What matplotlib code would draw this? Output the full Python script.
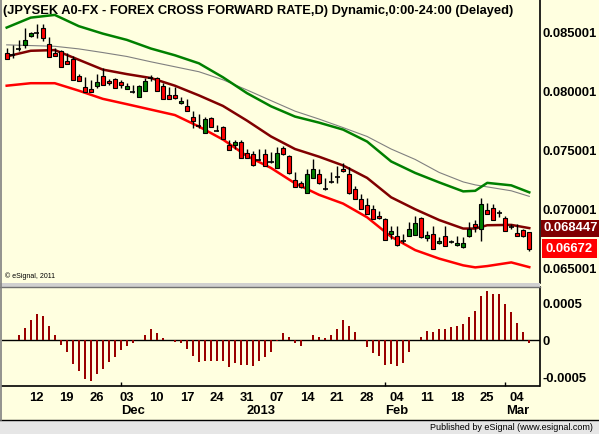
import matplotlib
matplotlib.use('Agg')
import matplotlib.pyplot as plt
import matplotlib.transforms as mtransforms
from matplotlib.patches import Rectangle
from matplotlib.lines import Line2D

plt.rcParams['font.family'] = ['Liberation Sans', 'DejaVu Sans']

# daily candles, 5 Nov 2012 .. 6 Mar 2013 (88 bars)
opens = [0.08323, 0.08309, 0.08357, 0.08393, 0.08471, 0.08494, 0.08539, 0.08399, 0.08323, 0.08337,
         0.08253, 0.08273, 0.08132, 0.08040, 0.08020, 0.08042, 0.08132, 0.08090, 0.08104, 0.08079,
         0.08023, 0.07997, 0.07953, 0.08003, 0.08111, 0.08113, 0.08044, 0.07972, 0.07968, 0.07902,
         0.07874, 0.07787, 0.07705, 0.07650, 0.07776, 0.07669, 0.07700, 0.07543, 0.07551, 0.07574,
         0.07481, 0.07475, 0.07422, 0.07473, 0.07402, 0.07355, 0.07523, 0.07453, 0.07248, 0.07229,
         0.07144, 0.07271, 0.07299, 0.07172, 0.07237, 0.07279, 0.07341, 0.07299, 0.07172, 0.07094,
         0.07043, 0.07010, 0.06947, 0.06920, 0.06793, 0.06782, 0.06734, 0.06779, 0.06787, 0.06934,
         0.06760, 0.06793, 0.06718, 0.06774, 0.06729, 0.06698, 0.06681, 0.06774, 0.06878, 0.06835,
         0.06995, 0.07012, 0.06973, 0.06928, 0.06855, 0.06802, 0.06827, 0.06808]
highs = [0.08368, 0.08393, 0.08435, 0.08534, 0.08505, 0.08566, 0.08567, 0.08463, 0.08365, 0.08351,
         0.08323, 0.08295, 0.08149, 0.08118, 0.08098, 0.08149, 0.08197, 0.08107, 0.08111, 0.08098,
         0.08071, 0.08052, 0.08056, 0.08115, 0.08141, 0.08119, 0.08069, 0.08033, 0.08040, 0.07951,
         0.07936, 0.07832, 0.07810, 0.07784, 0.07781, 0.07714, 0.07711, 0.07593, 0.07593, 0.07593,
         0.07509, 0.07495, 0.07515, 0.07509, 0.07484, 0.07528, 0.07537, 0.07459, 0.07321, 0.07242,
         0.07341, 0.07431, 0.07341, 0.07271, 0.07318, 0.07368, 0.07397, 0.07360, 0.07200, 0.07130,
         0.07102, 0.07038, 0.06990, 0.06934, 0.06863, 0.06863, 0.06793, 0.06897, 0.06947, 0.06942,
         0.06821, 0.06863, 0.06766, 0.06863, 0.06743, 0.06779, 0.06766, 0.06900, 0.06914, 0.07102,
         0.07060, 0.07052, 0.06995, 0.06947, 0.06883, 0.06878, 0.06835, 0.06816]
lows = [0.08271, 0.08281, 0.08337, 0.08365, 0.08463, 0.08452, 0.08427, 0.08288, 0.08295, 0.08208,
        0.08229, 0.08096, 0.08088, 0.07993, 0.07993, 0.08029, 0.08054, 0.08056, 0.08027, 0.08029,
        0.08021, 0.07985, 0.07951, 0.08001, 0.08084, 0.08002, 0.07934, 0.07934, 0.07932, 0.07890,
        0.07832, 0.07688, 0.07692, 0.07648, 0.07695, 0.07663, 0.07597, 0.07501, 0.07509, 0.07437,
        0.07437, 0.07372, 0.07416, 0.07370, 0.07395, 0.07353, 0.07465, 0.07305, 0.07193, 0.07187,
        0.07142, 0.07269, 0.07221, 0.07166, 0.07223, 0.07229, 0.07318, 0.07137, 0.07092, 0.07008,
        0.06966, 0.06918, 0.06924, 0.06741, 0.06751, 0.06696, 0.06723, 0.06777, 0.06785, 0.06764,
        0.06737, 0.06665, 0.06709, 0.06693, 0.06715, 0.06695, 0.06679, 0.06772, 0.06808, 0.06737,
        0.06966, 0.06912, 0.06939, 0.06819, 0.06841, 0.06777, 0.06772, 0.06653]
closes = [0.08275, 0.08309, 0.08357, 0.08435, 0.08492, 0.08494, 0.08450, 0.08290, 0.08303, 0.08210,
          0.08231, 0.08098, 0.08090, 0.07995, 0.07995, 0.08079, 0.08056, 0.08071, 0.08029, 0.08056,
          0.08042, 0.07997, 0.08048, 0.08090, 0.08111, 0.08006, 0.07936, 0.07936, 0.07943, 0.07922,
          0.07835, 0.07747, 0.07705, 0.07768, 0.07697, 0.07669, 0.07599, 0.07503, 0.07571, 0.07439,
          0.07439, 0.07374, 0.07422, 0.07372, 0.07402, 0.07481, 0.07467, 0.07307, 0.07195, 0.07195,
          0.07304, 0.07341, 0.07223, 0.07172, 0.07237, 0.07279, 0.07326, 0.07139, 0.07094, 0.07010,
          0.06968, 0.06920, 0.06926, 0.06743, 0.06821, 0.06698, 0.06734, 0.06835, 0.06892, 0.06766,
          0.06787, 0.06667, 0.06737, 0.06695, 0.06729, 0.06718, 0.06715, 0.06835, 0.06855, 0.07046,
          0.06968, 0.06914, 0.06973, 0.06821, 0.06855, 0.06779, 0.06774, 0.06672]

# envelope lines, read at these bar numbers
band_idx = [0, 4, 8, 12, 16, 20, 24, 28, 32, 36, 40, 44, 48, 52, 56, 60, 64, 68, 72, 76, 78, 80, 84, 87]
upper = [0.08539, 0.08623, 0.08646, 0.08551, 0.08488, 0.08435, 0.08362, 0.08305, 0.08237, 0.08119,
         0.07985, 0.07874, 0.07787, 0.07736, 0.07677, 0.07576, 0.07408, 0.07311, 0.07231, 0.07155,
         0.07160, 0.07227, 0.07206, 0.07147]
grey_ma = [0.08393, 0.08387, 0.08381, 0.08359, 0.08328, 0.08295, 0.08250, 0.08208, 0.08166, 0.08098,
           0.08012, 0.07922, 0.07833, 0.07766, 0.07694, 0.07619, 0.07513, 0.07425, 0.07315, 0.07235,
           0.07210, 0.07193, 0.07160, 0.07113]
middle = [0.08295, 0.08343, 0.08349, 0.08267, 0.08184, 0.08146, 0.08113, 0.08048, 0.07966, 0.07877,
          0.07753, 0.07619, 0.07513, 0.07448, 0.07374, 0.07269, 0.07105, 0.07004, 0.06913, 0.06841,
          0.06841, 0.06869, 0.06872, 0.068447]
lower = [0.08048, 0.08069, 0.08069, 0.08006, 0.07937, 0.07892, 0.07846, 0.07800, 0.07703, 0.07593,
         0.07454, 0.07353, 0.07223, 0.07126, 0.07052, 0.06936, 0.06772, 0.06659, 0.06587, 0.06530,
         0.06513, 0.06524, 0.06555, 0.06515]

hist = [0.00001, 0.00001, 0.00007, 0.00017, 0.00028, 0.00035, 0.00033, 0.00019, 0.00008, -0.00006,
        -0.00016, -0.00032, -0.00041, -0.00052, -0.00054, -0.00045, -0.00038, -0.00029, -0.00022, -0.00013,
        -0.00007, -0.00004, 0.00001, 0.00007, 0.00015, 0.00010, 0.00004, 0.0, -0.00002, -0.00004,
        -0.00012, -0.00021, -0.00029, -0.00027, -0.00027, -0.00027, -0.00028, -0.00036, -0.00030, -0.00033,
        -0.00033, -0.00034, -0.00027, -0.00022, -0.00015, -0.00001, 0.00010, 0.00005, -0.00003, -0.00008,
        0.0, 0.00008, 0.00005, 0.00003, 0.00007, 0.00016, 0.00027, 0.00019, 0.00011, 0.0,
        -0.00009, -0.00017, -0.00021, -0.00033, -0.00032, -0.00034, -0.00030, -0.00016, 0.00001, 0.00005,
        0.00013, 0.00011, 0.00015, 0.00015, 0.00018, 0.00019, 0.00022, 0.00032, 0.00040, 0.00060,
        0.00066, 0.00063, 0.00063, 0.00049, 0.00039, 0.00024, 0.00012, -0.00004]

tick_idx = [5, 10, 15, 20, 25, 30, 35, 40, 45, 50, 55, 60, 65, 70, 75, 80, 85]
tick_lbl = ['12', '19', '26', '03', '10', '17', '24', '31', '07', '14', '21', '28', '04', '11', '18', '25', '04']
month_end_idx = [19, 40, 63, 83]
month_lbl = ['Dec', '2013', 'Feb', 'Mar']
month_pos = [21.0, 42.4, 65.0, 85.0]
price_ticks = [0.065001, 0.070001, 0.075001, 0.080001, 0.085001]
osc_ticks = [0.0005, 0, -0.0005]
osc_lbl = ['0.0005', '0', '-0.0005']

BG = '#FFFFE0'
W, H = 599.0, 434.0
FS = 9.4


def box(l, t, r, b):
    return [l / W, 1 - b / H, (r - l) / W, (b - t) / H]


def px_right(px):
    # axes fraction for a pixel column to the right of the plot
    return 1.0 + (px - 539.5) / 537.5


fig = plt.figure(figsize=(5.99, 4.34), dpi=100, facecolor=BG)
ax = fig.add_axes(box(2, 0, 539.5, 283), facecolor=BG)
ax2 = fig.add_axes(box(2, 287, 539.5, 386), facecolor=BG)

# price panel
ax.plot(band_idx, grey_ma, color='#808080', lw=0.8, zorder=2)
ax.plot(band_idx, upper, color='#008000', lw=1.8, zorder=2)
ax.plot(band_idx, middle, color='#800000', lw=1.8, zorder=2)
ax.plot(band_idx, lower, color='#FF0000', lw=1.8, zorder=2)

for i in range(len(opens)):
    o, h, l, c = opens[i], highs[i], lows[i], closes[i]
    ax.vlines(i, l, h, color='black', lw=1, zorder=3)
    if o == c:
        ax.hlines(o, i - 0.42, i + 0.42, color='black', lw=1.2, zorder=4)
    else:
        col = '#FF0000' if c < o else '#008000'
        ax.bar(i, abs(c - o), bottom=min(o, c), width=0.62, color=col,
               edgecolor='black', lw=0.8, zorder=4)

ax.set_xlim(-0.78, 88.7)
ax.set_ylim(0.06381, 0.08772)
for s in ['top', 'left', 'bottom']:
    ax.spines[s].set_visible(False)
ax.spines['right'].set_linewidth(1.2)
ax.set_xticks([])
ax.yaxis.tick_right()
ax.set_yticks(price_ticks)
ax.set_yticklabels([f'{v:.6f}' for v in price_ticks], fontweight='bold', fontsize=FS)
ax.tick_params(axis='y', length=0, pad=2)

bt = mtransforms.blended_transform_factory(ax.transAxes, ax.transData)
ax.text(px_right(544), middle[-1], f'{middle[-1]:.6f}', transform=bt, ha='left', va='center',
        color='white', fontweight='bold', fontsize=FS,
        bbox=dict(boxstyle='square,pad=0.2', fc='#800000', ec='none'))
ax.text(px_right(546), closes[-1], f'{closes[-1]:.5f}', transform=bt, ha='left', va='center',
        color='white', fontweight='bold', fontsize=FS,
        bbox=dict(boxstyle='square,pad=0.3', fc='#FF0000', ec='none'))

# oscillator panel
ax2.bar(range(len(hist)), hist, width=0.34, color='#990000', zorder=3)
ax2.axhline(0, color='black', lw=1, zorder=2)
ax2.set_xlim(-0.78, 88.7)
ax2.set_ylim(-0.000613, 0.00072)
for s in ['top', 'left']:
    ax2.spines[s].set_visible(False)
ax2.spines['right'].set_linewidth(1.2)
ax2.spines['bottom'].set_linewidth(1.2)
ax2.yaxis.tick_right()
ax2.set_yticks(osc_ticks)
ax2.set_yticklabels(osc_lbl, fontweight='bold', fontsize=FS)
ax2.tick_params(axis='y', length=0, pad=2)
ax2.set_xticks(tick_idx)
ax2.set_xticklabels(tick_lbl, fontweight='bold', fontsize=FS)
ax2.set_xticks(month_end_idx, minor=True)
ax2.tick_params(axis='x', which='major', length=0, pad=4)
ax2.tick_params(axis='x', which='minor', length=3, direction='in', width=1)

mt = mtransforms.blended_transform_factory(ax2.transData, ax2.transAxes)
for p, m in zip(month_pos, month_lbl):
    ax2.text(p, -0.25, m, transform=mt, ha='center', va='center', fontweight='bold', fontsize=FS)

# frame decorations
fig.add_artist(Rectangle((0, 1 - 286.5 / H), 539.5 / W, 4 / H, transform=fig.transFigure,
                         fc='#D0D0D0', ec='none'))
fig.add_artist(Line2D([0, 539.5 / W], [1 - 286.5 / H] * 2, transform=fig.transFigure,
                      color='#707070', lw=1))
fig.add_artist(Rectangle((0, 0), 1, 14 / H, transform=fig.transFigure, fc='#E6E6E6', ec='none'))
fig.add_artist(Line2D([0, 1], [14.5 / H] * 2, transform=fig.transFigure, color='black', lw=1))
fig.add_artist(Line2D([1 / W] * 2, [14 / H, 1], transform=fig.transFigure, color='#808080', lw=1.2))

fig.text(3 / W, 1 - 11 / H,
         '(JPYSEK A0-FX - FOREX CROSS FORWARD RATE,D) Dynamic,0:00-24:00 (Delayed)',
         ha='left', va='center', fontweight='bold', fontsize=9.3)
fig.text(5 / W, 1 - 276 / H, '\u00a9 eSignal, 2011', ha='left', va='center', fontsize=5)
fig.text(593 / W, 1 - 427 / H, 'Published by eSignal (www.esignal.com)', ha='right', va='center',
         fontsize=6.5)

fig.savefig('out.png', dpi=100, facecolor=BG)
